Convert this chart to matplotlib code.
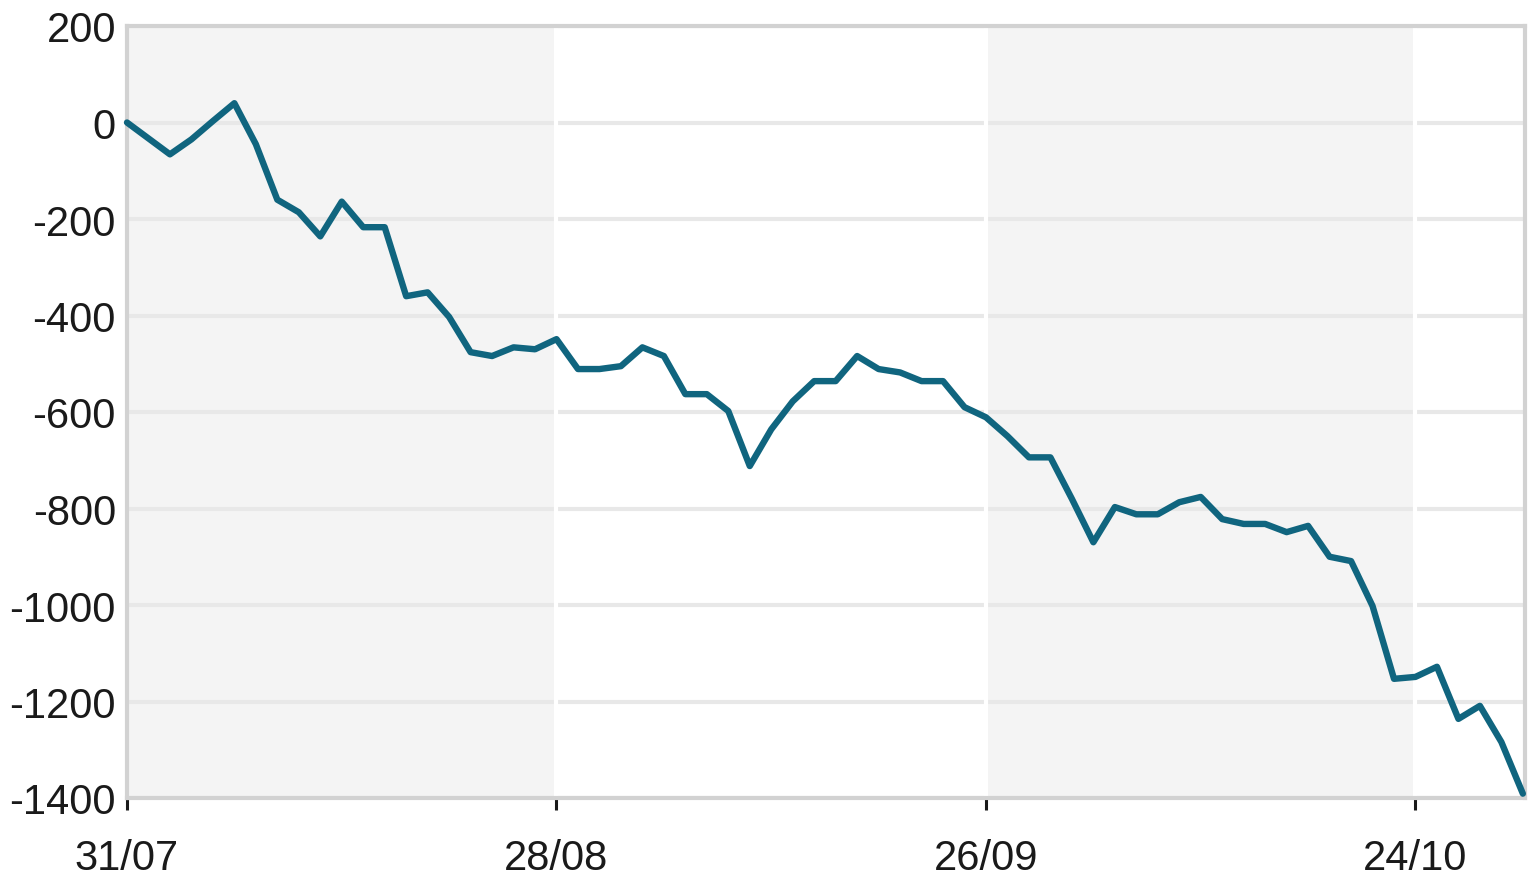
import matplotlib
matplotlib.use("Agg")
import matplotlib.pyplot as plt

# valeurs (un point par séance)
values = [0, -33, -66, -35, 3, 40, -45, -160, -186, -236,
          -164, -217, -217, -360, -352, -403, -476, -484, -466, -470,
          -449, -511, -511, -505, -466, -484, -563, -563, -598, -712,
          -636, -578, -536, -536, -484, -511, -518, -536, -536, -590,
          -611, -650, -694, -694, -780, -870, -797, -812, -812, -787,
          -776, -822, -832, -832, -849, -836, -900, -909, -1002, -1153,
          -1149, -1128, -1236, -1209, -1284, -1391]
date_labels = ["31/07", "28/08", "26/09", "24/10"]
date_idx = [0, 20, 40, 60]
y_ticks = [200, 0, -200, -400, -600, -800, -1000, -1200, -1400]

plt.rcParams["font.family"] = ["Liberation Sans", "DejaVu Sans"]
plt.rcParams["axes.unicode_minus"] = False

fig = plt.figure(figsize=(15.37, 8.87), dpi=100)
ax = fig.add_axes([127 / 1537, 88 / 887, 1398 / 1537, 772 / 887])

x = list(range(len(values)))
xmax = len(values) - 1 + 0.1

# bandes grises alternées
bounds = date_idx + [xmax]
for i in range(len(bounds) - 1):
    if i % 2 == 0:
        ax.axvspan(bounds[i], bounds[i + 1], color="#f4f4f4", lw=0, zorder=0)

for yv in y_ticks:
    ax.axhline(yv, color="#e8e8e8", lw=3, zorder=1)
for xi in date_idx[1:]:
    ax.axvline(xi, color="white", lw=3, zorder=1.5)

ax.plot(x, values, color="#10657f", lw=4.6, solid_joinstyle="round",
        solid_capstyle="round", zorder=3, clip_on=False)

ax.set_xlim(0, xmax)
ax.set_ylim(-1400, 200)
ax.set_yticks(y_ticks)
ax.set_xticks(date_idx)
ax.set_xticklabels(date_labels)

for s in ax.spines.values():
    s.set_color("#d2d2d2")
    s.set_linewidth(3)
    s.set_zorder(2)

ax.tick_params(axis="y", length=0, pad=8, labelsize=30, labelcolor="#1a1a1a")
ax.tick_params(axis="x", length=8.5, width=2.2, color="#1a1a1a", pad=20,
               labelsize=30, labelcolor="#1a1a1a")

fig.savefig("out.png", dpi=100)
